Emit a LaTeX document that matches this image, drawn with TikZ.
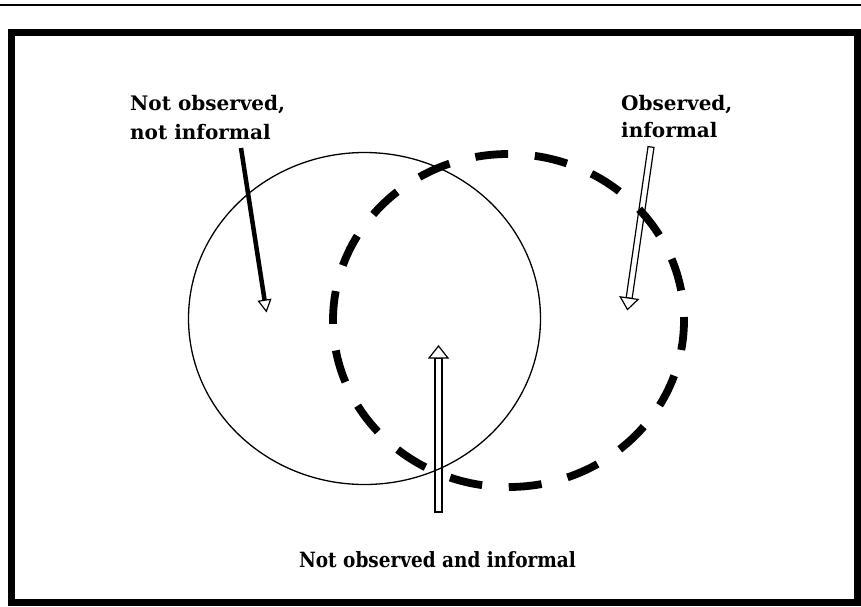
\documentclass[tikz,border=0pt]{standalone}
\usepackage{fontspec}
\usetikzlibrary{arrows.meta,calc}
\newfontfamily\lblfont{DejaVu Serif}
\newfontfamily\btmfont[FakeStretch=0.88]{DejaVu Serif}
\newcommand\hollowarrow[5]{% #1 start, #2 tip, #3 shaft half width, #4 head half width, #5 head length
  \coordinate (hb) at ($(#2)!#5!(#1)$);
  \draw[hollow] ($(#1)!#3!90:(#2)$) -- ($(#1)!#3!-90:(#2)$) -- ($(hb)!#3!-90:(#2)$) -- ($(hb)!#3!90:(#2)$) -- cycle;
  \draw[hollow] ($(hb)!#4!90:(#2)$) -- (#2) -- ($(hb)!#4!-90:(#2)$) -- cycle;
}
\begin{document}
\begin{tikzpicture}[x=1pt,y=1pt,
  lbl/.style={font=\lblfont\fontsize{20}{29}\selectfont\bfseries, inner sep=0pt},
  bottomlbl/.style={font=\btmfont\fontsize{21}{24}\selectfont\bfseries, inner sep=0pt},
  thinell/.style={draw, line width=1.3pt},
  dashell/.style={draw, line width=7.8pt, dash pattern=on 33pt off 26.7pt, dash phase=29.5pt},
  solidarrow/.style={line width=4.5pt, -{Triangle[width=14pt,length=13pt,fill=white,line width=1.2pt]}},
  hollow/.style={draw, fill=white, line width=1.2pt, line join=miter}
]
\useasboundingbox (0,0) rectangle (861,-606);
% top rule and frame
\draw[line width=2pt] (0,-5) -- (861,-5);
\draw[line width=7pt] (11,-32.5) rectangle (857.5,-602.5);

% labels
\node[lbl, anchor=base west] (tl) at (130,-110) {Not observed,};
\node[lbl, anchor=base west] (tl2) at (130,-139) {not informal};
\node[lbl, anchor=base west] (tr) at (621,-110) {Observed,};
\node[lbl, anchor=base west] (tr2) at (621,-137) {informal};
\node[bottomlbl, anchor=base] (bt) at (437.5,-567) {Not observed and informal};

% arrows
\coordinate (a1s) at (241,-148);
\coordinate (a1e) at (266.5,-312.5);
\draw[solidarrow] (a1s) -- (a1e);

\coordinate (a2s) at (651,-147);
\coordinate (a2e) at (627.5,-309.5);
\hollowarrow{a2s}{a2e}{3pt}{9pt}{11.5pt}

\coordinate (a3s) at (438.5,-512);
\coordinate (a3e) at (438.5,-346);
\hollowarrow{a3s}{a3e}{3.5pt}{9.5pt}{12pt}

% sets
\draw[thinell] (364.5,-318.5) ellipse [x radius=176, y radius=166];
\draw[dashell] (508.5,-320.5) ellipse [x radius=175.5, y radius=166.5];
\end{tikzpicture}
\end{document}
